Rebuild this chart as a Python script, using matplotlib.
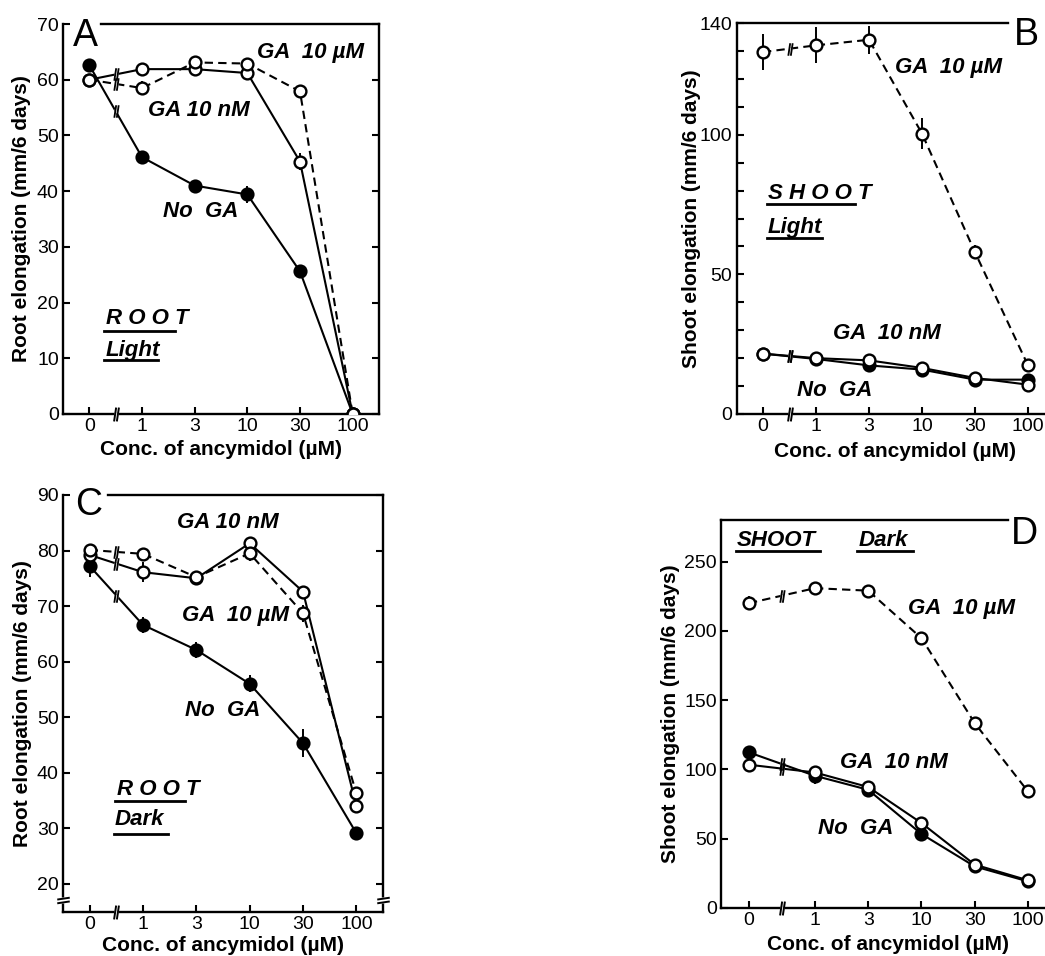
import numpy as np
import matplotlib
matplotlib.use('Agg')
import matplotlib.pyplot as plt
from matplotlib.path import Path

plt.rcParams['font.family'] = ['Liberation Sans', 'DejaVu Sans']

# x categories (ancymidol, uM)
conc_labels = ['0', '1', '3', '10', '30', '100']

# panel A: root, light
a_no_ga = [62.6, 46.1, 41.0, 39.4, 25.6, 0.0]
a_no_ga_err = [1.0, 0.5, 0.5, 1.5, 0.6, 0.0]
a_ga_nm = [60.0, 61.9, 61.9, 61.2, 45.3, 0.0]
a_ga_nm_err = [0.8, 1.0, 0.6, 1.0, 1.5, 0.0]
a_ga_um = [60.0, 58.5, 63.1, 62.9, 57.9, 0.0]
a_ga_um_err = [1.0, 1.2, 0.8, 0.6, 1.0, 0.0]

# panel B: shoot, light
b_no_ga = [21.6, 19.7, 17.4, 15.9, 12.3, 12.3]
b_no_ga_err = [0.5, 0.5, 0.5, 0.5, 0.5, 0.5]
b_ga_nm = [21.6, 20.0, 19.2, 16.5, 12.9, 10.5]
b_ga_nm_err = [0.5, 0.5, 0.5, 0.5, 0.5, 0.5]
b_ga_um = [129.6, 132.0, 134.0, 100.4, 57.9, 17.4]
b_ga_um_err = [6.5, 6.5, 5.0, 5.5, 2.5, 2.0]

# panel C: root, dark
c_no_ga = [77.2, 66.6, 62.1, 56.0, 45.3, 29.1]
c_no_ga_err = [2.0, 1.5, 1.5, 1.5, 2.5, 1.0]
c_ga_nm = [79.2, 76.1, 75.0, 81.3, 72.6, 34.0]
c_ga_nm_err = [1.0, 1.8, 1.0, 1.0, 1.0, 1.0]
c_ga_um = [80.1, 79.4, 75.2, 79.5, 68.7, 36.3]
c_ga_um_err = [1.0, 0.5, 1.0, 1.3, 1.5, 1.0]

# panel D: shoot, dark
d_no_ga = [112.3, 95.4, 85.3, 53.4, 30.0, 19.2]
d_no_ga_err = [3.0, 6.0, 3.0, 4.0, 2.0, 2.0]
d_ga_nm = [103.4, 97.8, 87.3, 61.3, 31.3, 20.0]
d_ga_nm_err = [4.0, 5.0, 3.0, 3.0, 3.0, 2.0]
d_ga_um = [220.0, 230.8, 229.0, 194.7, 133.4, 84.1]
d_ga_um_err = [5.0, 4.0, 2.0, 4.0, 3.0, 2.0]

W, H = 1045, 956
fig = plt.figure(figsize=(W / 100, H / 100), dpi=100)


def px_axes(left, right, top, bottom):
    return fig.add_axes([left / W, 1 - bottom / H, (right - left) / W, (bottom - top) / H])


brk = Path([(-0.35, -1), (-0.05, 1), (0.05, -1), (0.35, 1)],
           [Path.MOVETO, Path.LINETO, Path.MOVETO, Path.LINETO])
ybrk = Path([(-1, -0.45), (1, -0.15), (-1, 0.15), (1, 0.45)],
            [Path.MOVETO, Path.LINETO, Path.MOVETO, Path.LINETO])

lab = dict(fontsize=16, fontweight='bold', fontstyle='italic')


def series(ax, x, y, err, filled, dashed):
    ls = (0, (4, 2.5)) if dashed else '-'
    ax.errorbar(x, y, yerr=err, fmt='none', ecolor='black', elinewidth=1.4, capsize=0, zorder=2)
    ax.plot(x, y, color='black', lw=1.5, ls=ls, zorder=3)
    ax.plot(x, y, 'o', ms=8.5, mew=1.7, mec='black', mfc='black' if filled else 'white', zorder=4)
    mx, my = (x[0] + x[1]) / 2, (y[0] + y[1]) / 2
    ax.plot(mx, my, 's', ms=2.5, mfc='white', mec='none', zorder=3.5)
    ax.plot(mx, my, marker=brk, ms=9, mew=1.3, color='black', zorder=3.6)


def panel(ax, data, ylim, yticks, ylabels, minor, xlim, xpos, letter, letter_pos,
          top_bounds, ylabel, ylab_x, xlab_y, right=True):
    for y, err, filled, dashed in data:
        series(ax, xpos, y, err, filled, dashed)
    ax.set_xlim(xlim)
    ax.set_ylim(ylim)
    ax.set_xticks(xpos)
    ax.set_xticklabels(conc_labels)
    ax.set_yticks(yticks)
    ax.set_yticklabels(ylabels)
    if minor is not None:
        ax.set_yticks(minor, minor=True)
    for s in ax.spines.values():
        s.set_linewidth(1.7)
    ax.spines['top'].set_bounds(*top_bounds)
    ax.tick_params(axis='both', direction='in', length=5, width=1.5, labelsize=14, pad=3,
                   right=right)
    ax.tick_params(axis='y', which='minor', direction='in', length=5, width=1.5, right=right)
    ax.tick_params(axis='x', pad=3)
    # break mark on x axis
    ax.plot((xpos[0] + xpos[1]) / 2, ylim[0], 's', ms=3, mfc='white', mec='none',
            clip_on=False, zorder=5)
    ax.plot((xpos[0] + xpos[1]) / 2, ylim[0], marker=brk, ms=10, mew=1.4, color='black',
            clip_on=False, zorder=6)
    ax.text(letter_pos[0], letter_pos[1], letter, transform=ax.transAxes, fontsize=27,
            ha='center', va='center')
    ax.text(ylab_x, 0.5, ylabel, transform=ax.transAxes, rotation=90, fontsize=15,
            fontweight='bold', ha='center', va='center')
    ax.text(0.5, xlab_y, 'Conc. of ancymidol (\u00b5M)', transform=ax.transAxes,
            fontsize=15, fontweight='bold', ha='center', va='center')


def note(ax, x, y, s, underline=None):
    ax.text(x, y, s, transform=ax.transAxes, ha='left', va='center', **lab)
    if underline is not None:
        x0, x1, yu = underline
        ax.plot([x0, x1], [yu, yu], color='black', lw=2, transform=ax.transAxes,
                clip_on=False)


xpos = np.arange(6, dtype=float)
xpos_d = xpos.copy()
xpos_d[0] = -0.24

# A
axA = px_axes(63, 379, 24, 414)
panel(axA, [(a_no_ga, a_no_ga_err, True, False), (a_ga_nm, a_ga_nm_err, False, False),
            (a_ga_um, a_ga_um_err, False, True)],
      (0, 70), np.arange(0, 71, 10), [str(v) for v in range(0, 71, 10)], None,
      (-0.5, 5.5), xpos, 'A', (0.07, 0.97), (0.23, 5.5),
      'Root elongation (mm/6 days)', -0.132, -0.092)
note(axA, 0.614, 0.928, 'GA  10 \u00b5M')
note(axA, 0.269, 0.779, 'GA 10 nM')
note(axA, 0.316, 0.518, 'No  GA')
note(axA, 0.136, 0.246, 'R O O T', (0.13, 0.354, 0.212))
note(axA, 0.136, 0.164, 'Light', (0.13, 0.30, 0.138))

# B
axB = px_axes(736.5, 1054.5, 23, 414)
panel(axB, [(b_no_ga, b_no_ga_err, True, False), (b_ga_nm, b_ga_nm_err, False, False),
            (b_ga_um, b_ga_um_err, False, True)],
      (0, 140), [0, 50, 100, 140], ['0', '50', '100', '140'], np.arange(10, 140, 10),
      (-0.5, 5.5), xpos, 'B', (0.913, 0.97), (-0.5, 4.62),
      'Shoot elongation (mm/6 days)', -0.14, -0.097, right=False)
note(axB, 0.498, 0.887, 'GA  10 \u00b5M')
note(axB, 0.303, 0.207, 'GA  10 nM')
note(axB, 0.19, 0.061, 'No  GA')
note(axB, 0.099, 0.565, 'S H O O T', (0.096, 0.373, 0.538))
note(axB, 0.099, 0.478, 'Light', (0.096, 0.269, 0.451))

# C
axC = px_axes(63, 383, 495, 912)
panel(axC, [(c_no_ga, c_no_ga_err, True, False), (c_ga_nm, c_ga_nm_err, False, False),
            (c_ga_um, c_ga_um_err, False, True)],
      (14.9, 90), np.arange(20, 91, 10), [str(v) for v in range(20, 91, 10)], None,
      (-0.5, 5.5), xpos, 'C', (0.081, 0.975), (0.34, 5.5),
      'Root elongation (mm/6 days)', -0.128, -0.081)
for xb in (-0.5, 5.5):
    axC.plot(xb, 17.1, 's', ms=4, mfc='white', mec='none', clip_on=False, zorder=5)
    axC.plot(xb, 17.1, marker=ybrk, ms=9, mew=1.4, color='black', clip_on=False, zorder=6)
note(axC, 0.356, 0.933, 'GA 10 nM')
note(axC, 0.372, 0.712, 'GA  10 \u00b5M')
note(axC, 0.381, 0.484, 'No  GA')
note(axC, 0.169, 0.293, 'R O O T', (0.162, 0.381, 0.267))
note(axC, 0.162, 0.221, 'Dark', (0.159, 0.328, 0.188))

# D
axD = px_axes(721, 1054.6, 520, 908)
panel(axD, [(d_no_ga, d_no_ga_err, True, False), (d_ga_nm, d_ga_nm_err, False, False),
            (d_ga_um, d_ga_um_err, False, True)],
      (0, 280), np.arange(0, 251, 50), [str(v) for v in range(0, 251, 50)], None,
      (-0.765, 5.5), xpos_d, 'D', (0.911, 0.965), (-0.765, 4.62),
      'Shoot elongation (mm/6 days)', -0.15, -0.094, right=False)
note(axD, 0.048, 0.948, 'SHOOT', (0.045, 0.297, 0.921))
note(axD, 0.411, 0.948, 'Dark', (0.408, 0.576, 0.921))
note(axD, 0.561, 0.773, 'GA  10 \u00b5M')
note(axD, 0.357, 0.374, 'GA  10 nM')
note(axD, 0.291, 0.206, 'No  GA')

fig.savefig('out.png', dpi=100)
